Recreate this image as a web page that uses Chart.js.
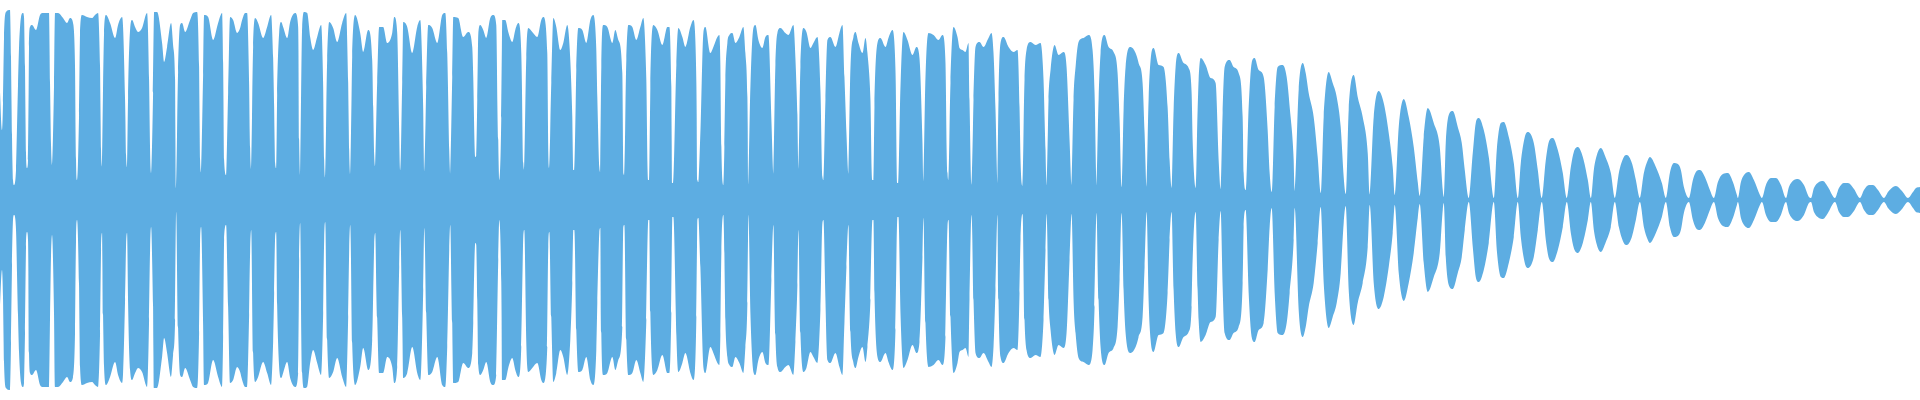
<!DOCTYPE html>
<html lang="en">

<head>
    <meta charset="UTF-8">
    <title>Waveform</title>
    <style>
        body {
            margin: 0;
            background: #fff;
        }

        #wrap {
            width: 1920px;
            height: 400px;
            position: relative;
        }
    </style>
</head>

<body>
    <div id="wrap"><canvas id="wave"></canvas></div>

    <script src="https://cdn.jsdelivr.net/npm/chart.js@4/dist/chart.umd.min.js"></script>
    <script>
        // envelope of the signal: [sample column, peak level] (level scale 0..200)
        const onsetEnvelope = [
            [0, 108], [2, 70],
            [3, 97], [4, 162], [6, 188], [10, 190], [11, 143], [12, 65], [13, 20], [14, 15],
            [16, 30], [18, 115], [19, 152], [21, 183], [23, 187], [24, 183], [25, 133], [26, 47], [27, 32],
            [28, 40], [29, 153], [30, 173], [32, 175], [36, 170], [40, 185], [43, 187], [49, 187], [50, 117], [51, 55], [52, 35],
            [54, 115], [55, 187], [58, 187], [63, 182], [67, 177], [70, 182], [73, 177], [75, 132], [76, 40], [77, 20],
            [79, 85], [80, 167], [82, 185], [87, 183], [92, 182], [95, 185], [98, 187], [100, 133], [101, 50], [102, 33],
            [103, 115], [104, 167], [106, 185], [110, 177], [115, 162], [118, 175], [122, 183], [123, 173], [125, 100], [126, 45], [127, 33],
            [128, 102], [130, 170], [132, 180], [135, 173], [138, 168], [142, 172], [147, 187], [149, 120], [150, 50], [151, 27],
            [153, 107], [154, 188], [157, 188], [162, 157], [164, 138], [167, 153], [171, 177], [173, 155], [175, 120], [176, 12],
            [178, 128], [180, 175], [182, 177], [185, 168], [190, 180], [193, 187], [197, 188], [199, 133], [200, 40], [201, 27],
            [203, 125], [204, 185], [208, 183], [213, 160], [218, 177], [222, 187], [223, 137], [224, 40], [226, 25],
            [228, 107], [230, 183], [233, 180], [237, 167], [240, 172], [242, 180], [245, 187], [247, 187], [249, 115], [250, 52], [251, 30],
            [253, 153], [255, 182], [258, 177], [263, 162], [267, 173], [271, 185], [273, 142], [274, 93], [275, 37], [276, 32],
            [277, 105], [279, 167], [281, 178], [283, 173], [287, 162], [290, 178], [295, 187], [298, 173], [299, 60], [300, 23],
            [302, 173], [304, 188], [307, 187], [310, 163], [313, 150], [317, 163], [321, 175], [323, 113], [324, 40], [325, 22],
            [327, 140], [329, 178], [333, 172], [337, 158], [342, 177], [346, 187], [348, 117], [349, 50], [350, 25],
            [352, 143], [355, 185], [360, 167], [363, 148], [368, 170], [372, 140], [373, 93], [374, 45], [375, 33],
            [377, 118], [379, 173], [383, 173], [387, 157], [392, 167], [394, 183], [397, 167], [399, 67], [400, 30],
            [402, 118], [403, 178], [407, 173], [412, 147], [417, 173], [420, 180], [423, 90], [424, 28],
            [426, 113], [428, 175], [432, 172], [437, 157], [442, 185], [445, 187], [447, 147], [449, 50], [450, 25],
            [452, 123], [453, 183], [458, 182], [463, 163], [468, 168], [472, 153], [473, 123], [475, 43], [476, 45],
            [477, 100], [478, 165], [480, 175], [483, 170], [486, 162], [490, 182], [493, 185], [496, 175], [498, 60], [499, 20]
        ];

        const sustainEnvelope = [
            [501, 82], [502, 180], [505, 180], [508, 168], [512, 158], [515, 170], [518, 177], [521, 147], [523, 37], [524, 30],
            [526, 142], [528, 172], [532, 168], [537, 163], [541, 180], [543, 183], [547, 147], [548, 47], [549, 32],
            [551, 117], [553, 182], [556, 173], [560, 150], [563, 157], [567, 175], [570, 140], [572, 83], [573, 30], [574, 30],
            [576, 130], [578, 172], [582, 170], [586, 157], [590, 180], [593, 185], [596, 150], [597, 103], [599, 33], [600, 28],
            [601, 133], [603, 175], [607, 173], [612, 157], [615, 170], [618, 160], [622, 127], [623, 27], [624, 25],
            [626, 140], [628, 175], [632, 173], [636, 160], [640, 173], [643, 182], [646, 120], [648, 20], [649, 20],
            [650, 112], [653, 175], [657, 170], [662, 155], [667, 173], [669, 173], [671, 113], [672, 17], [673, 17],
            [676, 135], [678, 172], [682, 163], [685, 153], [690, 173], [693, 180], [696, 117], [697, 20], [698, 18],
            [700, 67], [703, 167], [705, 173], [710, 147], [713, 153], [717, 163], [719, 165], [720, 135], [721, 53], [723, 15],
            [724, 53], [725, 120], [727, 157], [729, 165], [732, 167], [735, 157], [739, 163], [743, 173], [745, 147], [747, 103], [748, 15],
            [750, 113], [753, 172], [755, 175], [758, 160], [762, 152], [765, 163], [768, 165], [771, 80], [773, 25],
            [775, 135], [777, 167], [780, 172], [785, 167], [788, 165], [793, 175], [795, 142], [797, 85], [798, 30],
            [800, 133], [803, 172], [806, 168], [810, 152], [813, 157], [817, 163], [820, 110], [822, 23], [823, 20],
            [825, 100], [827, 160], [830, 163], [835, 153], [839, 167], [842, 175], [844, 123], [846, 67], [848, 25],
            [850, 132], [853, 163], [855, 168], [858, 157], [862, 147], [865, 162], [867, 147], [870, 100], [872, 20], [873, 20],
            [874, 93], [877, 157], [880, 162], [885, 153], [888, 162], [892, 170], [895, 130], [897, 17], [898, 17],
            [900, 113], [903, 168], [907, 160], [912, 145], [916, 153], [919, 142], [922, 57], [923, 18],
            [925, 123], [928, 167], [933, 165], [938, 160], [942, 165], [945, 137], [947, 27], [948, 20],
            [950, 117], [953, 173], [957, 163], [959, 152], [962, 150], [965, 148], [968, 157], [969, 100], [971, 15],
            [973, 100], [975, 153], [979, 158], [983, 153], [988, 162], [991, 167], [993, 147], [995, 90], [997, 15],
            [998, 100], [1000, 157], [1003, 163], [1008, 153], [1013, 148], [1017, 150], [1019, 93], [1020, 40], [1022, 14],
            [1024, 120], [1026, 150], [1030, 158], [1035, 155], [1040, 157], [1043, 120], [1045, 50], [1046, 14],
            [1048, 100], [1050, 130], [1054, 155], [1058, 145], [1063, 148], [1066, 133], [1069, 60], [1071, 14],
            [1073, 100], [1075, 133], [1078, 158], [1083, 162], [1088, 165], [1092, 150], [1094, 107], [1096, 13],
            [1098, 100], [1100, 147], [1104, 165], [1108, 153], [1113, 148], [1117, 127], [1119, 80], [1121, 13],
            [1123, 90], [1125, 133], [1130, 153], [1135, 147], [1138, 137], [1142, 117], [1144, 67], [1146, 12],
            [1148, 100], [1150, 140], [1153, 152], [1158, 135], [1163, 133], [1167, 93], [1169, 40], [1171, 12],
            [1173, 90], [1175, 133], [1178, 147], [1183, 137], [1188, 132], [1191, 107], [1192, 60], [1195, 12],
            [1197, 90], [1198, 120], [1200, 142], [1205, 135], [1210, 122], [1215, 117], [1218, 40], [1220, 11]
        ];

        const decayEnvelope = [
            [1222, 87], [1224, 133], [1229, 140], [1233, 133], [1238, 127], [1242, 83], [1243, 27], [1245, 10],
            [1248, 93], [1251, 137], [1254, 142], [1258, 130], [1263, 123], [1267, 70], [1269, 27], [1271, 8],
            [1274, 93], [1277, 133], [1282, 135], [1286, 123], [1289, 93], [1293, 40], [1294, 8],
            [1298, 110], [1302, 137], [1305, 127], [1308, 107], [1313, 83], [1317, 43], [1320, 7],
            [1323, 83], [1328, 128], [1332, 117], [1336, 103], [1340, 73], [1343, 23], [1345, 6],
            [1348, 90], [1353, 125], [1357, 103], [1362, 83], [1367, 47], [1369, 5],
            [1373, 83], [1378, 109], [1383, 97], [1388, 67], [1392, 33], [1394, 5],
            [1398, 73], [1403, 101], [1408, 83], [1413, 53], [1417, 18], [1419, 4],
            [1423, 63], [1427, 92], [1433, 77], [1439, 53], [1440, 40], [1442, 10], [1443, 3],
            [1445, 57], [1448, 85], [1452, 89], [1457, 73], [1461, 57], [1464, 30], [1468, 2],
            [1472, 47], [1475, 77], [1478, 82], [1483, 70], [1488, 43], [1493, 2],
            [1496, 50], [1500, 77], [1503, 78], [1508, 63], [1513, 37], [1517, 2],
            [1520, 37], [1524, 63], [1527, 68], [1533, 57], [1537, 30], [1541, 2],
            [1545, 40], [1548, 58], [1552, 62], [1557, 50], [1562, 27], [1566, 2],
            [1570, 33], [1573, 48], [1577, 53], [1582, 43], [1587, 20], [1590, 2],
            [1593, 30], [1597, 48], [1600, 52], [1605, 42], [1610, 27], [1614, 2],
            [1618, 27], [1623, 43], [1626, 45], [1631, 37], [1635, 20], [1639, 2],
            [1643, 27], [1647, 40], [1649, 43], [1655, 33], [1661, 17], [1665, 2],
            [1669, 27], [1673, 37], [1677, 36], [1680, 30], [1683, 13], [1688, 2],
            [1692, 20], [1695, 28], [1699, 30], [1704, 23], [1709, 10], [1713, 2],
            [1717, 18], [1722, 26], [1727, 27], [1732, 18], [1736, 5], [1737, 2],
            [1740, 18], [1745, 27], [1748, 28], [1753, 20], [1759, 5], [1761, 2],
            [1765, 15], [1770, 22], [1775, 22], [1780, 15], [1785, 2],
            [1788, 13], [1793, 20], [1797, 21], [1803, 15], [1808, 3], [1810, 2],
            [1813, 12], [1818, 18], [1822, 19], [1827, 13], [1834, 2],
            [1838, 12], [1843, 17], [1847, 17], [1853, 11], [1859, 2],
            [1863, 10], [1868, 15], [1872, 15], [1877, 10], [1883, 2],
            [1887, 8], [1892, 13], [1895, 14], [1901, 9], [1907, 2],
            [1912, 8], [1915, 12], [1919, 13]
        ];

        const waveColor = "#5DADE2";

        const envelope = onsetEnvelope.concat(sustainEnvelope, decayEnvelope);
        const upper = envelope.map(p => ({ x: p[0], y: p[1] }));
        const lower = envelope.map(p => ({ x: p[0], y: -p[1] }));

        new Chart(document.getElementById("wave"), {
            type: "line",
            data: {
                datasets: [
                    {
                        data: upper,
                        fill: "+1",
                        backgroundColor: waveColor,
                        borderWidth: 0,
                        pointRadius: 0,
                        cubicInterpolationMode: "monotone"
                    },
                    {
                        data: lower,
                        fill: false,
                        backgroundColor: waveColor,
                        borderWidth: 0,
                        pointRadius: 0,
                        cubicInterpolationMode: "monotone"
                    }
                ]
            },
            options: {
                responsive: true,
                maintainAspectRatio: false,
                animation: false,
                layout: { padding: 0 },
                plugins: {
                    legend: { display: false },
                    tooltip: { enabled: false }
                },
                scales: {
                    x: { type: "linear", min: 0, max: 1919, display: false },
                    y: { min: -200, max: 200, display: false }
                }
            }
        });
    </script>
</body>

</html>
